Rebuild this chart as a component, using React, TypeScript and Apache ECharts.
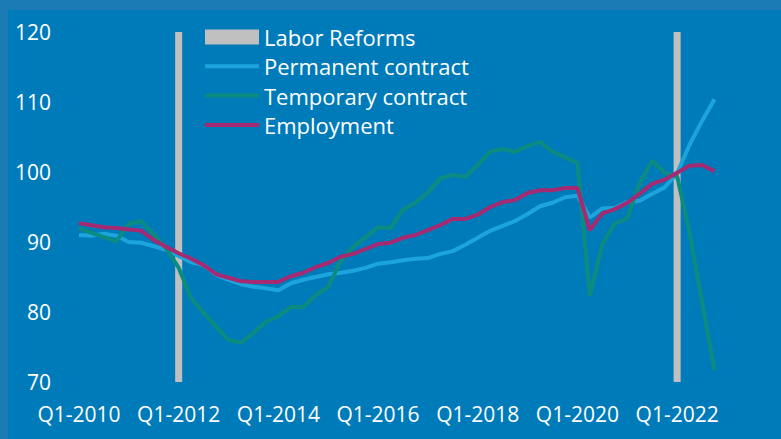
import React, { useEffect, useRef } from "react";
import * as echarts from "echarts";

const years = [2010, 2011, 2012, 2013, 2014, 2015, 2016, 2017, 2018, 2019, 2020, 2021, 2022];
const quarters = years.flatMap((y) => [1, 2, 3, 4].map((q) => `Q${q}-${y}`));

const permanent = [
  91.0, 90.9, 91.2, 90.9, 90.0, 89.9, 89.4, 88.9, 88.0, 87.1, 86.7, 85.3,
  84.6, 84.0, 83.6, 83.4, 83.1, 84.1, 84.6, 85.0, 85.4, 85.6, 85.9, 86.3,
  86.9, 87.1, 87.4, 87.6, 87.7, 88.3, 88.7, 89.6, 90.6, 91.6, 92.3, 93.0,
  94.0, 95.1, 95.6, 96.4, 96.6, 93.5, 94.8, 94.9, 95.7, 95.9, 96.9, 97.8,
  99.8, 103.9, 107.3, 110.4,
];
const temporary = [
  92.0, 91.3, 90.7, 90.1, 92.6, 93.0, 91.1, 89.1, 86.3, 82.0, 79.9, 77.9,
  76.0, 75.6, 77.0, 78.6, 79.4, 80.7, 80.7, 82.4, 83.6, 87.3, 89.3, 90.7,
  92.1, 92.0, 94.6, 95.6, 97.1, 99.1, 99.6, 99.3, 101.0, 102.9, 103.3, 102.9,
  103.7, 104.3, 102.9, 102.1, 101.3, 82.3, 89.7, 92.6, 93.4, 98.4, 101.6, 99.9,
  99.4, 91.4, 81.4, 71.7,
];
const employment = [
  92.7, 92.4, 92.1, 92.0, 91.8, 91.6, 90.3, 89.3, 88.4, 87.6, 86.7, 85.4,
  84.9, 84.4, 84.3, 84.3, 84.3, 85.1, 85.6, 86.4, 87.0, 87.9, 88.3, 89.0,
  89.7, 89.9, 90.6, 91.0, 91.7, 92.4, 93.3, 93.3, 93.9, 95.0, 95.7, 96.0,
  97.0, 97.4, 97.4, 97.7, 97.7, 91.7, 94.1, 94.7, 95.6, 96.9, 98.3, 98.9,
  99.9, 100.9, 101.0, 100.1,
];
const reformQuarters = ["Q1-2012", "Q1-2022"];
const reformTop = 120;

const FONT = "Open Sans";
const LINE_ICON = "path://M0,0 L54,0 L54,4 L0,4 Z";

export default function App() {
  const ref = useRef<HTMLDivElement>(null);
  useEffect(() => {
    document.body.style.margin = "0";
    const chart = echarts.init(ref.current!, null, { renderer: "svg" });
    const reforms = quarters.map((q) => (reformQuarters.includes(q) ? reformTop : null));
    chart.setOption({
      animation: false,
      backgroundColor: "#1b7bb4",
      textStyle: { fontFamily: FONT },
      graphic: [
        {
          type: "rect",
          z: -10,
          silent: true,
          shape: { x: 8, y: 10, width: 773, height: 429 },
          style: { fill: "#007bb9" },
        },
      ],
      grid: { left: 79, right: 66.5, top: 32, bottom: 57, containLabel: false },
      legend: {
        orient: "vertical",
        left: 200,
        top: 21,
        itemWidth: 54,
        itemHeight: 15,
        itemGap: 7.3,
        textStyle: { color: "#ffffff", fontSize: 22, fontFamily: FONT, lineHeight: 21 },
        data: [
          { name: "Labor Reforms", icon: "rect" },
          { name: "Permanent contract", icon: LINE_ICON },
          { name: "Temporary contract", icon: LINE_ICON },
          { name: "Employment", icon: LINE_ICON },
        ],
      },
      xAxis: {
        type: "category",
        data: quarters,
        boundaryGap: false,
        axisLine: { show: false },
        axisTick: { show: false },
        splitLine: { show: false },
        axisLabel: {
          interval: 7,
          color: "#ffffff",
          fontSize: 21,
          fontFamily: FONT,
          margin: 21,
        },
      },
      yAxis: {
        type: "value",
        min: 70,
        max: 120,
        interval: 10,
        axisLine: { show: false },
        axisTick: { show: false },
        splitLine: { show: false },
        axisLabel: { color: "#ffffff", fontSize: 21, fontFamily: FONT, margin: 28 },
      },
      series: [
        {
          name: "Labor Reforms",
          type: "bar",
          data: reforms,
          barWidth: 7,
          itemStyle: { color: "#c0c0c0" },
          z: 1,
        },
        {
          name: "Permanent contract",
          type: "line",
          data: permanent,
          symbol: "none",
          lineStyle: { color: "#1ca5dd", width: 4 },
          itemStyle: { color: "#1ca5dd" },
          z: 2,
        },
        {
          name: "Temporary contract",
          type: "line",
          data: temporary,
          symbol: "none",
          lineStyle: { color: "#0c8c80", width: 4 },
          itemStyle: { color: "#0c8c80" },
          z: 3,
        },
        {
          name: "Employment",
          type: "line",
          data: employment,
          symbol: "none",
          lineStyle: { color: "#a52a72", width: 4 },
          itemStyle: { color: "#a52a72" },
          z: 4,
        },
      ],
    });
    return () => chart.dispose();
  }, []);
  return <div ref={ref} style={{ width: 781, height: 439 }} />;
}
